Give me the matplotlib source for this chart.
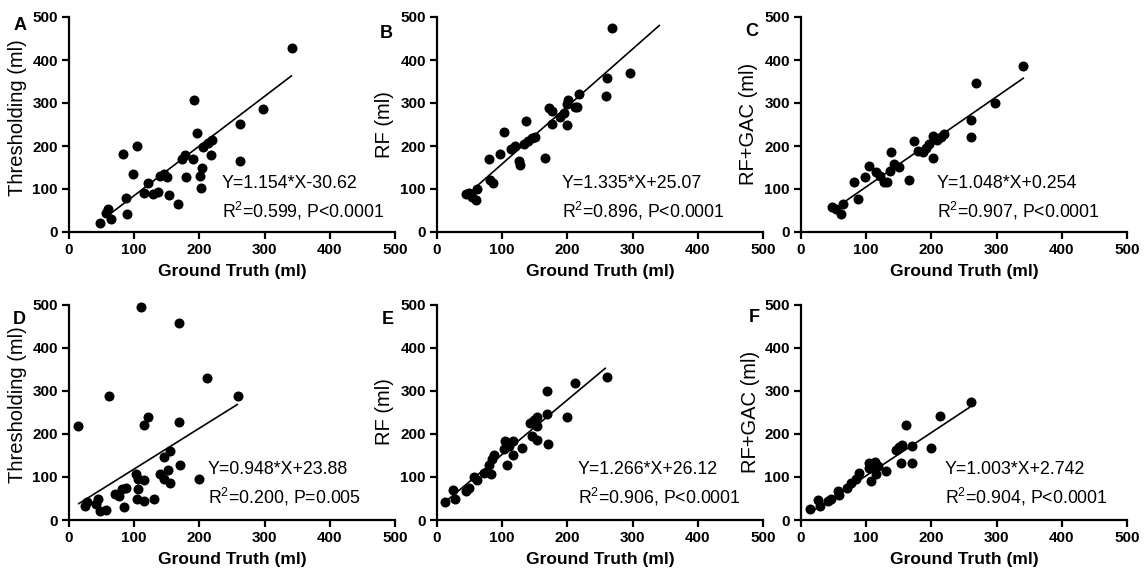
import matplotlib.pyplot as plt

plt.rcParams['font.family'] = ['Liberation Sans', 'DejaVu Sans']
plt.rcParams['mathtext.fontset'] = 'custom'
plt.rcParams['mathtext.rm'] = 'Liberation Sans'

# Panel A - Thresholding (top row)
a_x = [342, 192, 298, 263, 196, 105, 219, 213, 206, 83, 218, 178, 173, 190, 262, 204, 201,
       180, 98, 139, 145, 151, 203, 121, 115, 129, 137, 153, 87, 167, 60, 56, 89, 65, 48]
a_y = [427, 308, 285, 251, 231, 201, 215, 207, 198, 181, 179, 178, 169, 170, 166, 149, 130,
       128, 136, 130, 135, 129, 102, 113, 90, 88, 92, 86, 80, 64, 54, 44, 42, 31, 21]

# Panel B - RF (top row)
b_x = [268, 296, 260, 259, 218, 201, 200, 212, 215, 172, 177, 195, 188, 200, 176, 137, 103,
       151, 146, 140, 133, 120, 113, 96, 80, 125, 128, 166, 82, 86, 62, 44, 53, 60, 49]
b_y = [474, 369, 359, 316, 322, 306, 297, 291, 290, 289, 281, 276, 268, 249, 251, 257, 232,
       222, 218, 211, 205, 201, 194, 182, 169, 165, 156, 172, 120, 113, 100, 88, 82, 74, 90]

# Panel C - RF+GAC (top row)
c_x = [341, 269, 297, 261, 260, 219, 215, 203, 208, 174, 197, 192, 179, 187, 202, 138, 166,
       104, 98, 82, 115, 121, 127, 132, 136, 143, 150, 88, 47, 54, 64, 62]
c_y = [386, 346, 300, 261, 222, 229, 220, 223, 214, 211, 204, 196, 189, 185, 173, 185, 121,
       154, 127, 116, 139, 131, 116, 116, 143, 158, 150, 77, 57, 54, 66, 42]

# Panel D - Thresholding (bottom row)
d_x = [111, 169, 212, 259, 62, 14, 121, 115, 169, 155, 146, 171, 152, 200, 140, 146, 155,
       102, 115, 106, 106, 104, 115, 131, 88, 81, 70, 77, 84, 45, 27, 25, 42, 47, 56]
d_y = [495, 458, 331, 289, 289, 219, 239, 220, 228, 160, 146, 129, 116, 96, 106, 95, 85,
       108, 92, 95, 72, 49, 45, 49, 74, 72, 60, 56, 31, 49, 43, 33, 37, 20, 23]

# Panel E - RF (bottom row)
e_x = [260, 212, 169, 169, 200, 154, 149, 143, 153, 146, 154, 170, 131, 117, 105, 110, 102,
       117, 108, 88, 85, 80, 83, 72, 57, 62, 49, 44, 24, 27, 13]
e_y = [332, 319, 299, 247, 239, 239, 233, 225, 218, 196, 185, 177, 168, 183, 183, 172, 164,
       152, 129, 152, 141, 127, 108, 110, 100, 93, 75, 68, 70, 49, 42]

# Panel F - RF+GAC (bottom row)
f_x = [260, 213, 161, 170, 200, 155, 150, 145, 154, 170, 113, 105, 118, 131, 105, 115, 108,
       89, 85, 77, 70, 57, 59, 46, 41, 26, 29, 14]
f_y = [275, 242, 222, 173, 168, 175, 169, 162, 132, 132, 135, 133, 125, 114, 122, 106, 91,
       110, 95, 85, 75, 68, 59, 49, 45, 46, 33, 25]

slopes = [1.154, 1.335, 1.048, 0.948, 1.266, 1.003]
intercepts = [-30.62, 25.07, 0.254, 23.88, 26.12, 2.742]
fit_x_top = [60, 341]
fit_x_bottom = [15, 258]

letters = ['A', 'B', 'C', 'D', 'E', 'F']
ylabels = ['Thresholding (ml)', 'RF (ml)', 'RF+GAC (ml)',
           'Thresholding (ml)', 'RF (ml)', 'RF+GAC (ml)']
eq_text = ['Y=1.154*X-30.62', 'Y=1.335*X+25.07', 'Y=1.048*X+0.254',
           'Y=0.948*X+23.88', 'Y=1.266*X+26.12', 'Y=1.003*X+2.742']
stat_text = [r'R$^\mathrm{2}$=0.599, P<0.0001', r'R$^\mathrm{2}$=0.896, P<0.0001',
             r'R$^\mathrm{2}$=0.907, P<0.0001', r'R$^\mathrm{2}$=0.200, P=0.005',
             r'R$^\mathrm{2}$=0.906, P<0.0001', r'R$^\mathrm{2}$=0.904, P<0.0001']
ticks = [0, 100, 200, 300, 400, 500]

xs = [a_x, b_x, c_x, d_x, e_x, f_x]
ys = [a_y, b_y, c_y, d_y, e_y, f_y]

W, H = 1148, 577
fig = plt.figure(figsize=(W / 100, H / 100), dpi=100)

lefts = [69, 437, 801]
tops = [17, 305]
aw, ah = 326, 215
# pixel positions for letters, ylabels, stats text
letter_pos = [(20, 25), (386, 33), (752, 31), (19, 320), (388, 320), (754, 318)]
ylab_pos = [(18, 118), (384, 125), (749, 124), (18, 405), (384, 412), (751, 412)]
text_pos = [(222, 184), (562, 184), (937, 184), (208, 470), (578, 470), (945, 470)]

for i in range(6):
    row, col = divmod(i, 3)
    l, t = lefts[col], tops[row]
    ax = fig.add_axes([l / W, 1 - (t + ah) / H, aw / W, ah / H])
    ax.scatter(xs[i], ys[i], s=52, color='black', zorder=3, clip_on=False, linewidths=0)
    fx = fit_x_top if row == 0 else fit_x_bottom
    fy = [slopes[i] * v + intercepts[i] for v in fx]
    ax.plot(fx, fy, color='black', lw=1.2, zorder=2)
    ax.set_xlim(0, 500)
    ax.set_ylim(0, 500)
    ax.set_xticks(ticks)
    ax.set_yticks(ticks)
    for s in ['top', 'right']:
        ax.spines[s].set_visible(False)
    for s in ['left', 'bottom']:
        ax.spines[s].set_linewidth(1.6)
    ax.tick_params(direction='out', length=5, width=1.6, labelsize=11, pad=3)
    for lab in ax.get_xticklabels() + ax.get_yticklabels():
        lab.set_fontweight('bold')
    ax.set_xlabel('Ground Truth (ml)', fontsize=12.5, fontweight='bold', labelpad=5)

    lx, ly = letter_pos[i]
    fig.text(lx / W, 1 - ly / H, letters[i], fontsize=13, fontweight='bold',
             ha='center', va='center')
    yx, yy = ylab_pos[i]
    fig.text(yx / W, 1 - yy / H, ylabels[i], fontsize=14.5, rotation=90,
             ha='center', va='center')
    tx, ty = text_pos[i]
    fig.text(tx / W, 1 - ty / H, eq_text[i], fontsize=12.8, ha='left', va='center')
    fig.text(tx / W, 1 - (ty + 27) / H, stat_text[i], fontsize=12.8, ha='left', va='center')

plt.savefig('out.png', dpi=100, facecolor='white')
plt.close()
